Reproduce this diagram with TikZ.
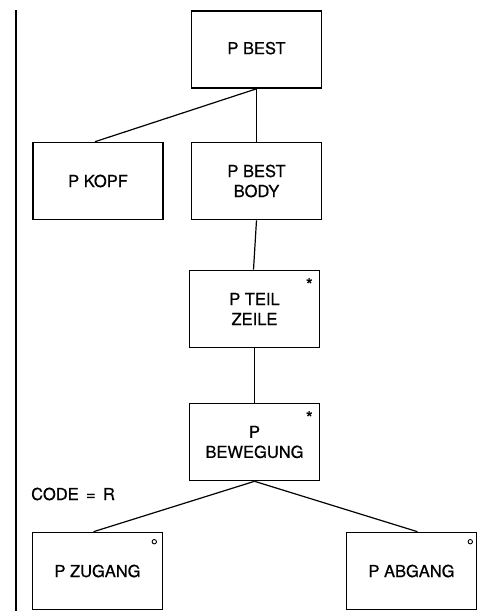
\documentclass[tikz,border=0pt]{standalone}
\usepackage{fontspec}
\setmainfont[FakeBold=0.6]{TeX Gyre Heros}
\begin{document}
\begin{tikzpicture}[x=1pt,y=-1pt,
  box/.style={draw,line width=1.6pt,minimum width=130pt,minimum height=77pt,inner sep=0pt,align=center,
    font=\fontsize{16.5}{20}\selectfont},
  conn/.style={line width=1.2pt},
  mark star/.style={font=\fontsize{18}{18}\selectfont,inner sep=0pt}]
\useasboundingbox (0,0) rectangle (481,611);
\node[box] (best) at (256.5,49.5) {\raisebox{3pt}{P BEST}};
\node[box] (kopf) at (98,181) {P KOPF};
\node[box] (body) at (256.5,181) {P BEST\\BODY};
\node[box] (teil) at (254.5,309) {P TEIL\\ZEILE};
\node[box] (bew) at (254.5,442) {P\\BEWEGUNG};
\node[box] (zug) at (97.5,571) {P ZUGANG};
\node[box] (abg) at (411.5,571) {P ABGANG};
\node[mark star,anchor=center] (s1) at ([xshift=-11pt,yshift=-15pt]teil.north east) {*};
\node[mark star,anchor=center] (s2) at ([xshift=-11pt,yshift=-15pt]bew.north east) {*};
\draw[line width=0.9pt] ([xshift=-9pt,yshift=-10pt]zug.north east) circle (2.2pt);
\draw[line width=0.9pt] ([xshift=-7pt,yshift=-10pt]abg.north east) circle (2.2pt);
\node[font=\fontsize{16.5}{20}\selectfont,anchor=west,inner sep=0pt] (code) at (31,494) {CODE \,=\, R};
\coordinate (vt) at (16,10);
\coordinate (vb) at (16,611);
\draw[line width=1.5pt] (vt) -- (vb);
\draw[conn] (best.south) -- ([xshift=-3pt]kopf.north);
\draw[conn] (best.south) -- (body.north);
\draw[conn] (body.south) -- ([xshift=-1pt]teil.north);
\draw[conn] (teil.south) -- (bew.north);
\draw[conn] (bew.south) -- ([xshift=-4pt]zug.north);
\draw[conn] (bew.south) -- ([xshift=6pt]abg.north);
\end{tikzpicture}
\end{document}
